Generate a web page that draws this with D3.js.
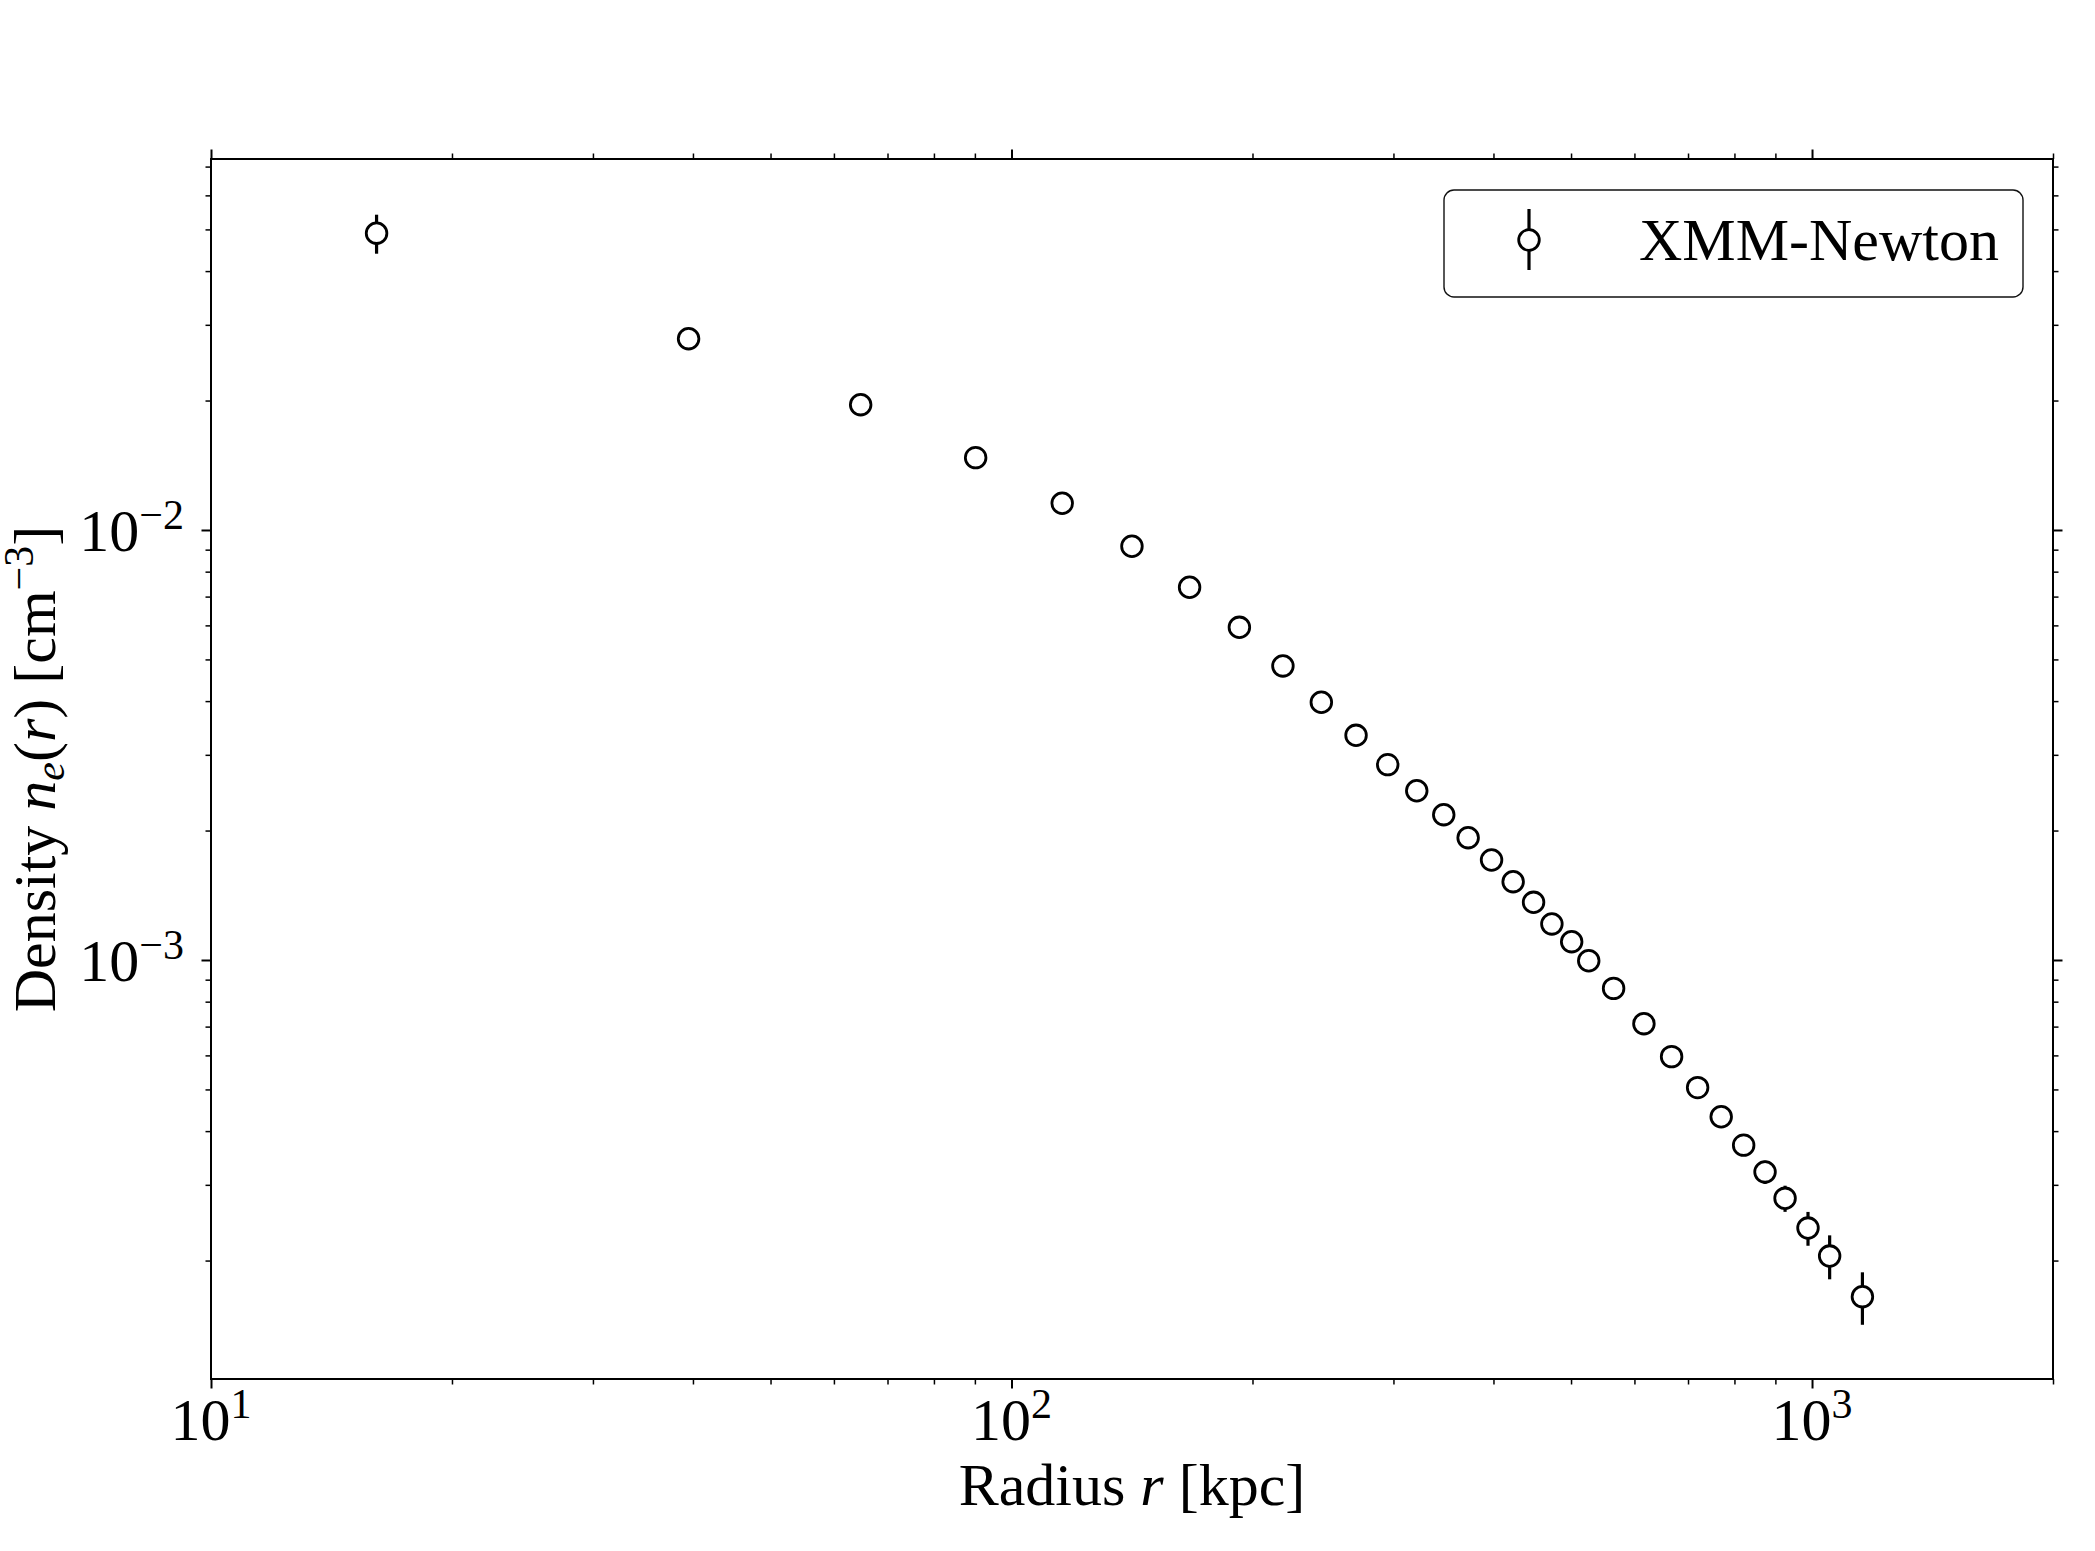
<!DOCTYPE html>
<html>
<head>
<meta charset="utf-8">
<script src="https://cdn.jsdelivr.net/npm/d3@7"></script>
<style>
	body { margin: 0; background: #fff; }
	svg { display: block; }
	text { font-family: "Liberation Serif", "Times New Roman", serif; fill: #000; }
</style>
</head>
<body>
<div id="chart"></div>
<script>
// radius [kpc], density [cm^-3] and 1-sigma error
const radius = [16.1, 39.5, 64.8, 90.2, 115.7, 141.4, 166.9, 192.6, 218.3, 243.8,
	269.4, 295.1, 320.8, 346.7, 371.9, 397.8, 423.3, 448.9, 473.2, 500.9,
	526.1, 565.1, 616.6, 667.7, 719.6, 770.1, 821.5, 873.6, 925.4, 988.5,
	1052, 1156];
const density = [0.0490, 0.02785, 0.01956, 0.01473, 0.01154, 0.009165, 0.007359, 0.005938, 0.004828, 0.003975,
	0.003331, 0.002846, 0.002475, 0.002177, 0.001925, 0.001708, 0.001521, 0.001362, 0.001213, 0.001103,
	0.000996, 0.000859, 0.000711, 0.000596, 0.000505, 0.000432, 0.000371, 0.0003214, 0.0002791, 0.0002380,
	0.0002049, 0.0001648];
const densityErr = [0.0051, 0.0006, 0.0004, 0.0003, 0.0002, 0.00015, 0.00012, 0.0001, 0.00008, 0.00007,
	0.00006, 0.00005, 0.00004, 0.00004, 0.00004, 0.00003, 0.00003, 0.00003, 0.00003, 0.00003,
	0.00003, 0.00002, 0.00002, 0.00002, 0.00002, 0.00002, 0.00002, 0.00002, 0.0000195, 0.0000215,
	0.000024, 0.000023];

const xMajor = [10, 100, 1000];
const xMajorExp = ["1", "2", "3"];
const yMajor = [1e-3, 1e-2];
const yMajorExp = ["\u22123", "\u22122"];
const seriesName = "XMM-Newton";

const W = 2095, H = 1551;
const m = { left: 211, right: 2053, top: 159, bottom: 1379 };

const svg = d3.select("#chart").append("svg")
	.attr("width", W).attr("height", H);

const x = d3.scaleLog().domain([10, 2000]).range([m.left, m.right]);
const y = d3.scaleLog().domain([1.0607e-4, 0.0729]).range([m.bottom, m.top]);

function minorTicks(scale) {
	const [a, b] = scale.domain();
	const out = [];
	for (let e = Math.floor(Math.log10(a)); e <= Math.ceil(Math.log10(b)); e++) {
		for (let k = 2; k <= 9; k++) {
			const v = k * Math.pow(10, e);
			if (v >= a * 0.9999 && v <= b * 1.0001) out.push(v);
		}
	}
	return out;
}
const xMinor = minorTicks(x);
const yMinor = minorTicks(y);

/* -------------------- ticks on all four sides ---------------------- */
function drawAxis(axisFn, scale, pos, values, size, width) {
	const g = svg.append("g")
		.attr("transform", pos)
		.call(axisFn(scale).tickValues(values).tickSize(size).tickFormat(""));
	g.select(".domain").remove();
	g.selectAll(".tick line").attr("stroke", "#000").attr("stroke-width", width);
	return g;
}
drawAxis(d3.axisBottom, x, `translate(0,${m.bottom})`, xMajor, 9.5, 2);
drawAxis(d3.axisBottom, x, `translate(0,${m.bottom})`, xMinor, 5.5, 1.5);
drawAxis(d3.axisTop, x, `translate(0,${m.top})`, xMajor, 9.5, 2);
drawAxis(d3.axisTop, x, `translate(0,${m.top})`, xMinor, 5.5, 1.5);
drawAxis(d3.axisLeft, y, `translate(${m.left},0)`, yMajor, 9.5, 2);
drawAxis(d3.axisLeft, y, `translate(${m.left},0)`, yMinor, 5.5, 1.5);
drawAxis(d3.axisRight, y, `translate(${m.right},0)`, yMajor, 9.5, 2);
drawAxis(d3.axisRight, y, `translate(${m.right},0)`, yMinor, 5.5, 1.5);

// frame
svg.append("rect")
	.attr("x", m.left).attr("y", m.top)
	.attr("width", m.right - m.left).attr("height", m.bottom - m.top)
	.attr("fill", "none").attr("stroke", "#000").attr("stroke-width", 2);

/* -------------------- tick labels ---------------------- */
xMajor.forEach((v, i) => {
	const t = svg.append("text")
		.attr("x", x(v)).attr("y", 1440)
		.attr("text-anchor", "middle")
		.style("font-size", "60px");
	t.append("tspan").text("10");
	t.append("tspan").attr("dy", -22).style("font-size", "42px").text(xMajorExp[i]);
});

yMajor.forEach((v, i) => {
	const t = svg.append("text")
		.attr("x", 184).attr("y", y(v) + 21)
		.attr("text-anchor", "end")
		.style("font-size", "60px");
	t.append("tspan").text("10");
	t.append("tspan").attr("dy", -22).style("font-size", "42px").text(yMajorExp[i]);
});

/* -------------------- axis labels ---------------------- */
const xl = svg.append("text")
	.attr("x", (m.left + m.right) / 2).attr("y", 1505)
	.attr("text-anchor", "middle")
	.style("font-size", "60px");
xl.append("tspan").text("Radius ");
xl.append("tspan").style("font-style", "italic").text("r");
xl.append("tspan").text(" [kpc]");

const yl = svg.append("text")
	.attr("transform", `translate(55,${(m.top + m.bottom) / 2}) rotate(-90)`)
	.attr("text-anchor", "middle")
	.style("font-size", "60px");
yl.append("tspan").text("Density ");
yl.append("tspan").style("font-style", "italic").text("n");
yl.append("tspan").style("font-style", "italic").style("font-size", "42px").attr("dy", 9).text("e");
yl.append("tspan").attr("dy", -9).text("(");
yl.append("tspan").style("font-style", "italic").text("r");
yl.append("tspan").text(") [cm");
yl.append("tspan").style("font-size", "42px").attr("dy", -22).text("\u22123");
yl.append("tspan").attr("dy", 22).text("]");

/* -------------------- data ---------------------- */
const pts = radius.map((r, i) => ({ r, n: density[i], e: densityErr[i] }));
const plot = svg.append("g");

plot.selectAll("line.err").data(pts).enter().append("line")
	.attr("class", "err")
	.attr("x1", d => x(d.r)).attr("x2", d => x(d.r))
	.attr("y1", d => y(d.n + d.e)).attr("y2", d => y(d.n - d.e))
	.attr("stroke", "#000").attr("stroke-width", 3.2);

plot.selectAll("circle").data(pts).enter().append("circle")
	.attr("cx", d => x(d.r)).attr("cy", d => y(d.n))
	.attr("r", 10.3)
	.attr("fill", "#fff").attr("stroke", "#000").attr("stroke-width", 2.8);

/* -------------------- legend ---------------------- */
const lg = svg.append("g");
lg.append("rect")
	.attr("x", 1444).attr("y", 190).attr("width", 579).attr("height", 107)
	.attr("rx", 10).attr("ry", 10)
	.attr("fill", "#fff").attr("stroke", "#111").attr("stroke-width", 1.4);
lg.append("line")
	.attr("x1", 1529).attr("x2", 1529).attr("y1", 209).attr("y2", 270)
	.attr("stroke", "#000").attr("stroke-width", 3.2);
lg.append("circle")
	.attr("cx", 1529).attr("cy", 240).attr("r", 10.3)
	.attr("fill", "#fff").attr("stroke", "#000").attr("stroke-width", 2.8);
lg.append("text")
	.attr("x", 1639).attr("y", 260)
	.style("font-size", "60px")
	.text(seriesName);
</script>
</body>
</html>
